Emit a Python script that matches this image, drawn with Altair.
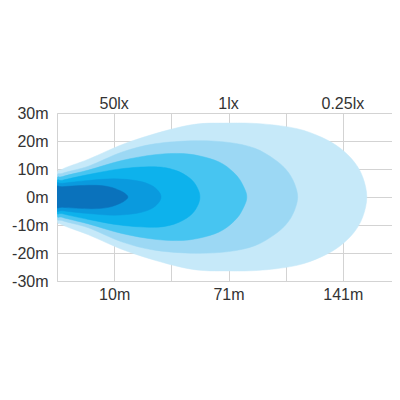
import altair as alt
import pandas as pd

# Isolux layers, outermost first. Upper half of each contour, from the lamp (x=0) to the tip.
# x in grid units (0..6), half-width in metres; the lower half mirrors the upper one.
LAYERS = ["0.25lx", "0.5lx", "1lx", "5lx", "20lx", "50lx"]
COLORS = ["#c6e9f9", "#9cd8f4", "#47c5f1", "#0db2ec", "#0a9ade", "#0a72bc"]

X_L6 = [0, 0.1, 0.55, 1.31, 2.3, 3.0, 3.6, 4.2, 4.63, 4.95, 5.2, 5.35, 5.42]
H_L6 = [7.5, 10.0, 13.5, 20.0, 25.6, 26.4, 26.1, 24.4, 21.3, 17.5, 12.5, 7.0, 0]

X_L5 = [0, 0.1, 0.55, 1.13, 1.71, 2.41, 3.0, 3.46, 3.8, 4.02, 4.15, 4.21]
H_L5 = [6.8, 8.5, 11.0, 16.0, 19.0, 20.1, 19.5, 17.4, 13.5, 9.5, 5.0, 0]

X_L4 = [0, 0.1, 0.55, 1.13, 1.71, 2.2, 2.59, 2.9, 3.15, 3.28, 3.32]
H_L4 = [6.0, 7.3, 9.6, 13.0, 15.1, 15.5, 14.2, 11.8, 7.5, 3.0, 0]

X_L3 = [0, 0.1, 0.55, 1.13, 1.71, 2.06, 2.32, 2.45, 2.5]
H_L3 = [5.2, 6.0, 8.0, 10.1, 10.8, 9.6, 6.8, 3.5, 0]

X_L2 = [0, 0.1, 0.55, 1.0, 1.4, 1.64, 1.77, 1.82]
H_L2 = [4.4, 4.9, 5.9, 6.5, 5.8, 4.3, 2.2, 0]

X_L1 = [0, 0.1, 0.6, 0.9, 1.1, 1.2, 1.24]
H_L1 = [3.4, 3.7, 4.2, 3.7, 2.3, 1.1, 0]

XS = [X_L6, X_L5, X_L4, X_L3, X_L2, X_L1]
HS = [H_L6, H_L5, H_L4, H_L3, H_L2, H_L1]

GRID_X = [0, 1, 2, 3, 4, 5, 6]
BOTTOM_POS = [1, 3, 5]
BOTTOM_LABELS = ["10m", "71m", "141m"]
TOP_LABELS = ["50lx", "1lx", "0.25lx"]
Y_TICKS = [-30, -20, -10, 0, 10, 20, 30]

# closed contour: upper half left->right, then mirrored lower half right->left
rows = []
for name, xs, hs in zip(LAYERS, XS, HS):
    pts = list(zip(xs, hs))
    lower = [(x, -h) for x, h in reversed(pts[:-1])]
    for i, (x, y) in enumerate(pts + lower):
        rows.append({"layer": name, "i": i, "x": x, "y": y})
df = pd.DataFrame(rows)


def label_expr(positions, labels):
    expr = "''"
    for p, l in reversed(list(zip(positions, labels))):
        expr = f"datum.value == {p} ? '{l}' : ({expr})"
    return expr


FONT = "Liberation Sans"
FS = 16
GRID = "#d3d3d3"
TXT = "#333333"
xscale = alt.Scale(domain=[0, 5.86], nice=False, zero=False)
yscale = alt.Scale(domain=[-30, 30], nice=False)

bottom_axis = alt.Axis(values=GRID_X, labelExpr=label_expr(BOTTOM_POS, BOTTOM_LABELS),
                       grid=True, gridColor=GRID, domainColor=GRID, ticks=False,
                       labelPadding=5, labelFontSize=FS, labelFont=FONT, labelColor=TXT,
                       title=None, labelFlush=False, labelOverlap=False)
left_axis = alt.Axis(values=Y_TICKS, labelExpr="datum.value + 'm'",
                     grid=True, gridColor=GRID, domainColor=GRID, ticks=False,
                     labelPadding=9, labelFontSize=FS, labelFont=FONT, labelColor=TXT,
                     title=None, labelFlush=False, labelOverlap=False)

layers = []
for name, color in zip(LAYERS, COLORS):
    sub = df[df["layer"] == name]
    layers.append(
        alt.Chart(sub).mark_line(fill=color, stroke=color, strokeWidth=0.5,
                                 interpolate="cardinal-closed", clip=True).encode(
            x=alt.X("x:Q", scale=xscale, axis=bottom_axis),
            y=alt.Y("y:Q", scale=yscale, axis=left_axis),
            order="i:Q",
        )
    )

top_df = pd.DataFrame({"x": BOTTOM_POS, "label": TOP_LABELS})
layers.append(
    alt.Chart(top_df).mark_text(font=FONT, fontSize=FS, color=TXT, baseline="middle").encode(
        x=alt.X("x:Q", scale=xscale, axis=bottom_axis),
        y=alt.value(-9),
        text="label:N",
    )
)

chart = alt.layer(*layers).properties(
    width=335, height=168,
    autosize=alt.AutoSizeParams(type="none"),
    padding={"left": 49, "top": 105, "right": 0, "bottom": 60},
).configure_view(stroke=None)

chart.save("out.html", embed_options={"renderer": "svg", "actions": False})
